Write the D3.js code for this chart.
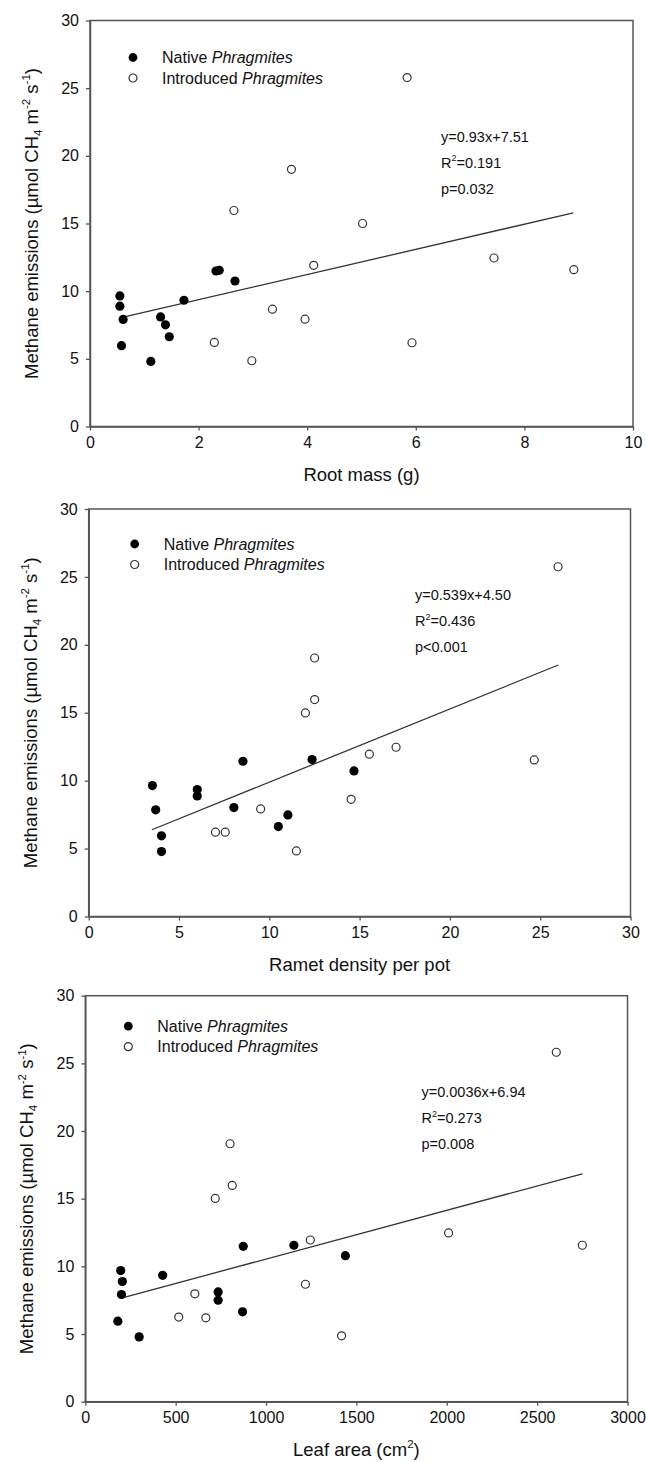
<!DOCTYPE html>
<html><head><meta charset="utf-8">
<script src="https://cdn.jsdelivr.net/npm/d3@7"></script>
<style>
body{margin:0;background:#fff}
svg{display:block}
text{font-family:"Liberation Sans",Arial,Helvetica,sans-serif;fill:#111}
</style>
</head><body>
<svg id="chart" width="646" height="1462"></svg>
<script>
// ---------- data ----------
const seriesNames = ["Native", "Introduced"];
const genusName = "Phragmites";
const yTicks = [0, 5, 10, 15, 20, 25, 30];
const yLabelParts = [["Methane emissions (µmol CH",""],["4","sub"],[" m",""],["-2","sup"],[" s",""],["-1","sup"],[")",""]];

// Panel 1: root mass
const rootTicks = [0, 2, 4, 6, 8, 10];
const rootNativeX = [0.55, 0.55, 0.61, 0.58, 1.12, 1.30, 1.39, 1.46, 1.73, 2.32, 2.38, 2.67];
const rootNativeY = [9.65, 8.89, 7.91, 5.97, 4.81, 8.10, 7.51, 6.63, 9.33, 11.49, 11.54, 10.75];
const rootIntroX = [5.84, 3.71, 2.65, 5.02, 4.12, 7.44, 8.91, 3.36, 3.96, 2.29, 2.98, 5.93];
const rootIntroY = [25.78, 19.0, 15.96, 15.0, 11.91, 12.45, 11.59, 8.67, 7.93, 6.21, 4.86, 6.19];

// Panel 2: ramet density
const rametTicks = [0, 5, 10, 15, 20, 25, 30];
const rametNativeX = [3.53, 3.71, 4.03, 4.03, 6.01, 6.01, 8.04, 8.54, 10.50, 11.03, 12.37, 14.69];
const rametNativeY = [9.64, 7.85, 5.94, 4.78, 9.35, 8.88, 8.02, 11.43, 6.62, 7.48, 11.55, 10.72];
const rametIntroX = [25.99, 12.51, 12.51, 12.0, 17.02, 15.54, 24.67, 14.53, 9.52, 7.02, 7.56, 11.5];
const rametIntroY = [25.75, 19.03, 15.97, 14.99, 12.46, 11.95, 11.53, 8.63, 7.92, 6.21, 6.21, 4.83];

// Panel 3: leaf area
const leafTicks = [0, 500, 1000, 1500, 2000, 2500, 3000];
const leafNativeX = [196, 205, 200, 180, 298, 428, 735, 735, 870, 874, 1154, 1439];
const leafNativeY = [9.69, 8.88, 7.92, 5.95, 4.79, 9.34, 8.11, 7.50, 6.64, 11.48, 11.56, 10.79];
const leafIntroX = [2606, 801, 813, 719, 2010, 1245, 2750, 1218, 606, 517, 667, 1418];
const leafIntroY = [25.82, 19.06, 15.98, 15.02, 12.47, 11.95, 11.56, 8.68, 7.97, 6.25, 6.20, 4.87];

// regressions
const fitSlope = [0.93, 0.539, 0.0036];
const fitIntercept = [7.51, 4.50, 6.94];
const fitFrom = [0.65, 3.5, 200];
const fitTo = [8.9, 26, 2750];
const fitEqText = ["y=0.93x+7.51", "y=0.539x+4.50", "y=0.0036x+6.94"];
const fitR2Text = ["=0.191", "=0.436", "=0.273"];
const fitPText = ["p=0.032", "p<0.001", "p=0.008"];

// x labels
const xLabels = [[["Root mass (g)",""]], [["Ramet density per pot",""]], [["Leaf area (cm",""],["2","sup"],[")",""]]];

// ---------- layout ----------
const panels = [
  {left:90, right:633, top:20.5, bottom:426.5, xMax:10, ticks:rootTicks, nx:rootNativeX, ny:rootNativeY, ix:rootIntroX, iy:rootIntroY, legX:43, legY:37, annX:441, annY:121},
  {left:88.7, right:630.5, top:509, bottom:916.5, xMax:30, ticks:rametTicks, nx:rametNativeX, ny:rametNativeY, ix:rametIntroX, iy:rametIntroY, legX:46, legY:35, annX:415, annY:91},
  {left:85.3, right:627.5, top:995.7, bottom:1401.7, xMax:3000, ticks:leafTicks, nx:leafNativeX, ny:leafNativeY, ix:leafIntroX, iy:leafIntroY, legX:43, legY:30.5, annX:421.5, annY:101}
];

const svg = d3.select("#chart");
const axisColor = "#555";

function richText(sel, parts, fs) {
  let shift = 0;
  parts.forEach(([t, kind]) => {
    let target = 0, size = fs;
    if (kind === "sup") { target = -fs * 0.42; size = fs * 0.62; }
    if (kind === "sub") { target = fs * 0.22; size = fs * 0.62; }
    sel.append("tspan").attr("dy", target - shift).attr("font-size", size).text(t);
    shift = target;
  });
}

panels.forEach((p, i) => {
  const g = svg.append("g");
  const x = d3.scaleLinear().domain([0, p.xMax]).range([p.left, p.right]);
  const y = d3.scaleLinear().domain([0, 30]).range([p.bottom, p.top]);

  // frame
  g.append("rect").attr("x", p.left).attr("y", p.top)
    .attr("width", p.right - p.left).attr("height", p.bottom - p.top)
    .attr("fill", "none").attr("stroke", axisColor).attr("stroke-width", 1.5);

  const xa = g.append("g").attr("transform", `translate(0,${p.bottom})`)
    .call(d3.axisBottom(x).tickValues(p.ticks).tickSize(4).tickSizeOuter(0).tickPadding(6).tickFormat(d3.format("d")));
  const ya = g.append("g").attr("transform", `translate(${p.left},0)`)
    .call(d3.axisLeft(y).tickValues(yTicks).tickSize(4).tickSizeOuter(0).tickPadding(7).tickFormat(d3.format("d")));
  [xa, ya].forEach(a => {
    a.select(".domain").attr("stroke", axisColor).attr("stroke-width", 1.5);
    a.selectAll(".tick line").attr("stroke", axisColor).attr("stroke-width", 1.3);
    a.selectAll(".tick text").attr("font-size", 16).attr("fill", "#111")
      .style("font-family", '"Liberation Sans",Arial,sans-serif');
  });

  // y label
  const yl = g.append("text")
    .attr("transform", `translate(${p.left - 52},${(p.top + p.bottom) / 2}) rotate(-90)`)
    .attr("text-anchor", "middle").attr("font-size", 18.5);
  richText(yl, yLabelParts, 18.5);

  // x label
  const xl = g.append("text").attr("x", (p.left + p.right) / 2).attr("y", p.bottom + 54)
    .attr("text-anchor", "middle").attr("font-size", 18.5);
  richText(xl, xLabels[i], 18.5);

  // regression line
  g.append("line")
    .attr("x1", x(fitFrom[i])).attr("y1", y(fitSlope[i] * fitFrom[i] + fitIntercept[i]))
    .attr("x2", x(fitTo[i])).attr("y2", y(fitSlope[i] * fitTo[i] + fitIntercept[i]))
    .attr("stroke", "#333").attr("stroke-width", 1.3);

  // points
  const intro = p.ix.map((v, k) => [v, p.iy[k]]);
  const nat = p.nx.map((v, k) => [v, p.ny[k]]);
  g.append("g").selectAll("circle").data(intro).join("circle")
    .attr("cx", d => x(d[0])).attr("cy", d => y(d[1])).attr("r", 4)
    .attr("fill", "#fff").attr("stroke", "#333").attr("stroke-width", 1.2);
  g.append("g").selectAll("circle").data(nat).join("circle")
    .attr("cx", d => x(d[0])).attr("cy", d => y(d[1])).attr("r", 4.6)
    .attr("fill", "#000");

  // legend
  const leg = g.append("g").attr("transform", `translate(${p.left + p.legX},${p.top + p.legY})`);
  seriesNames.forEach((s, k) => {
    const row = leg.append("g").attr("transform", `translate(0,${k * 20.5})`);
    if (k === 0) row.append("circle").attr("r", 4.4).attr("fill", "#000");
    else row.append("circle").attr("r", 4).attr("fill", "#fff").attr("stroke", "#333").attr("stroke-width", 1.2);
    const t = row.append("text").attr("x", 29).attr("y", 5.6).attr("font-size", 16);
    t.append("tspan").text(s + " ");
    t.append("tspan").attr("font-style", "italic").text(genusName);
  });

  // annotation
  const ann = g.append("g").attr("transform", `translate(${p.annX},${p.top + p.annY})`);
  ann.append("text").attr("font-size", 14.5).text(fitEqText[i]);
  const r2 = ann.append("text").attr("y", 26).attr("font-size", 14.5);
  richText(r2, [["R",""],["2","sup"],[fitR2Text[i],""]], 14.5);
  ann.append("text").attr("y", 52).attr("font-size", 14.5).text(fitPText[i]);
});
</script>
</body></html>
